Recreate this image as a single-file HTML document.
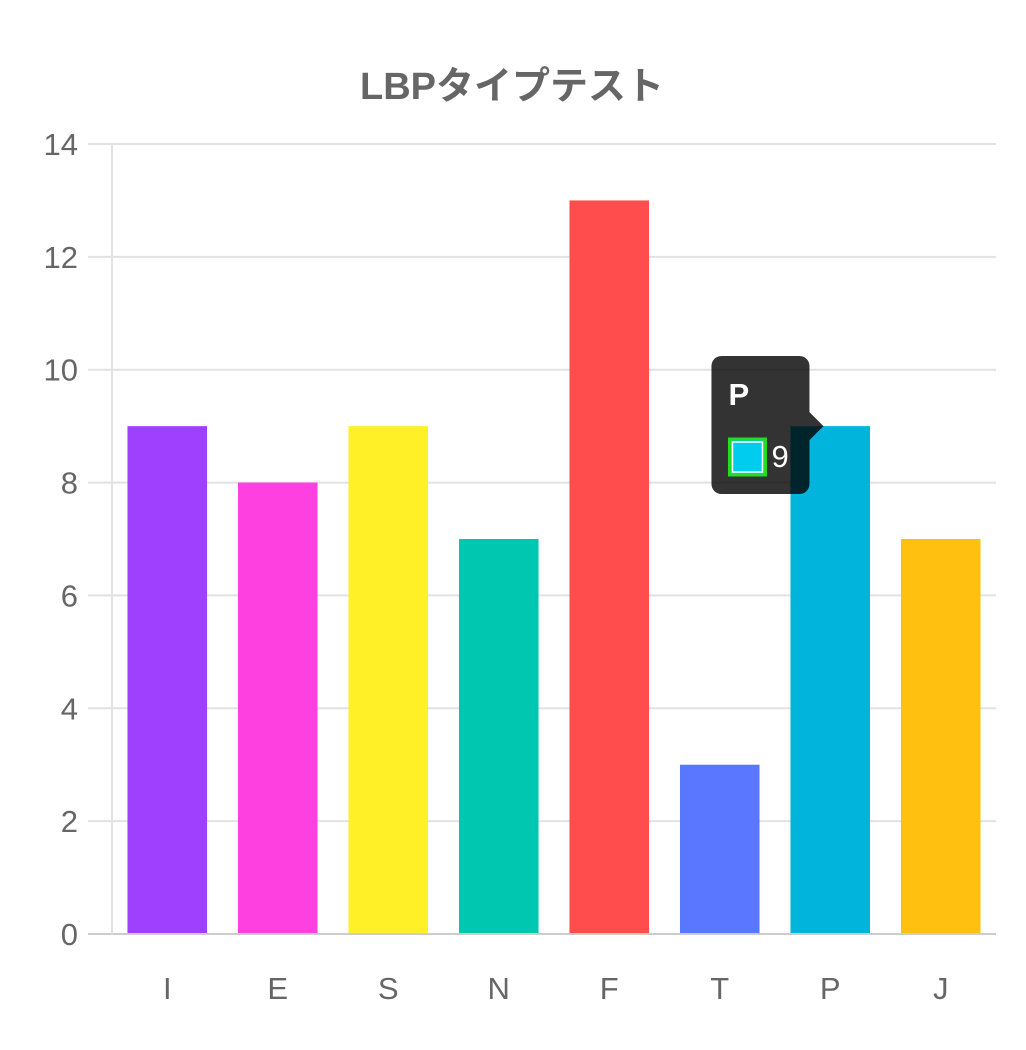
<!DOCTYPE html>
<html><head><meta charset="utf-8"><style>
html,body{margin:0;padding:0;background:#fff;}
svg{display:block;font-family:"Liberation Sans","Noto Sans CJK JP",sans-serif;}
</style></head><body>
<svg id="chart" width="1026" height="1050" viewBox="0 0 1026 1050">
<text x="512" y="99" text-anchor="middle" font-size="38" font-weight="bold" fill="#666">LBPタイプテスト</text>
<g id="grid"></g><g id="bars"></g><g id="labels"></g>
</svg>
<script>
const categories=["I","E","S","N","F","T","P","J"];
const values=[9,8,9,7,13,3,9,7];
const colors=["#a040ff","#ff40e0","#fff028","#00c8b0","#ff4c4c","#5a78ff","#00b4dc","#ffc010"];
const yTicks=[0,2,4,6,8,10,12,14];
const NS="http://www.w3.org/2000/svg";
const x0=112,x1=996,y0=934,y1=144,yMax=14;
const band=(x1-x0)/categories.length;
const ys=v=>y0-(v/yMax)*(y0-y1);
const xs=i=>x0+band*i;
function mk(tag,attrs,parent){const e=document.createElementNS(NS,tag);for(const k in attrs)e.setAttribute(k,attrs[k]);parent.appendChild(e);return e;}
const grid=document.getElementById('grid'),bars=document.getElementById('bars'),labels=document.getElementById('labels');
yTicks.forEach(t=>{
  const l=mk('line',{x1:88,x2:x1,y1:ys(t),y2:ys(t),stroke:t===0?'#ccc':'#e2e2e2','stroke-width':2},grid);
  
  
  const tx=mk('text',{x:78,y:ys(t)+11,'text-anchor':'end','font-size':31,fill:'#666'},labels);
  tx.textContent=t;
  
  
});
const ax=mk('line',{x1:x0,x2:x0,y1:y1,y2:y0,stroke:'#e2e2e2','stroke-width':2},grid);


categories.forEach((c,i)=>{
  const bw=band*0.72,bx=xs(i)+(band-bw)/2;
  const r=mk('rect',{x:bx,y:ys(values[i]),width:bw,height:y0-ys(values[i])-1,fill:colors[i]},bars);
  
  
  const tx=mk('text',{x:xs(i)+band/2,y:999,'text-anchor':'middle','font-size':31,fill:'#666'},labels);
  tx.textContent=c;
  
  
});
// tooltip for P
const pi=categories.indexOf("P");
const tip=mk('g',{},document.getElementById('chart'));


const ty=ys(values[pi]);
const tx0=xs(pi)+(band-band*0.72)/2-79;
mk('path',{d:`M${tx0+10},356 H${tx0+88} a10,10 0 0 1 10,10 V${ty-14} L${tx0+112},${ty} L${tx0+98},${ty+14} V484 a10,10 0 0 1 -10,10 H${tx0+10} a10,10 0 0 1 -10,-10 V366 a10,10 0 0 1 10,-10 Z`,fill:'rgba(0,0,0,0.8)'},tip);
const tt=mk('text',{x:tx0+17,y:405,'font-size':31,'font-weight':'bold',fill:'#fff'},tip);
tt.textContent="P";


mk('rect',{x:tx0+18,y:439,width:36,height:36,fill:'#00ccf0',stroke:'#22dd22','stroke-width':3},tip);
mk('rect',{x:tx0+21,y:442,width:30,height:30,fill:'none',stroke:'#fff','stroke-width':1.5},tip);
const tv=mk('text',{x:tx0+60,y:467,'font-size':31,fill:'#fff'},tip);
tv.textContent=values[pi];


</script>
</body></html>
